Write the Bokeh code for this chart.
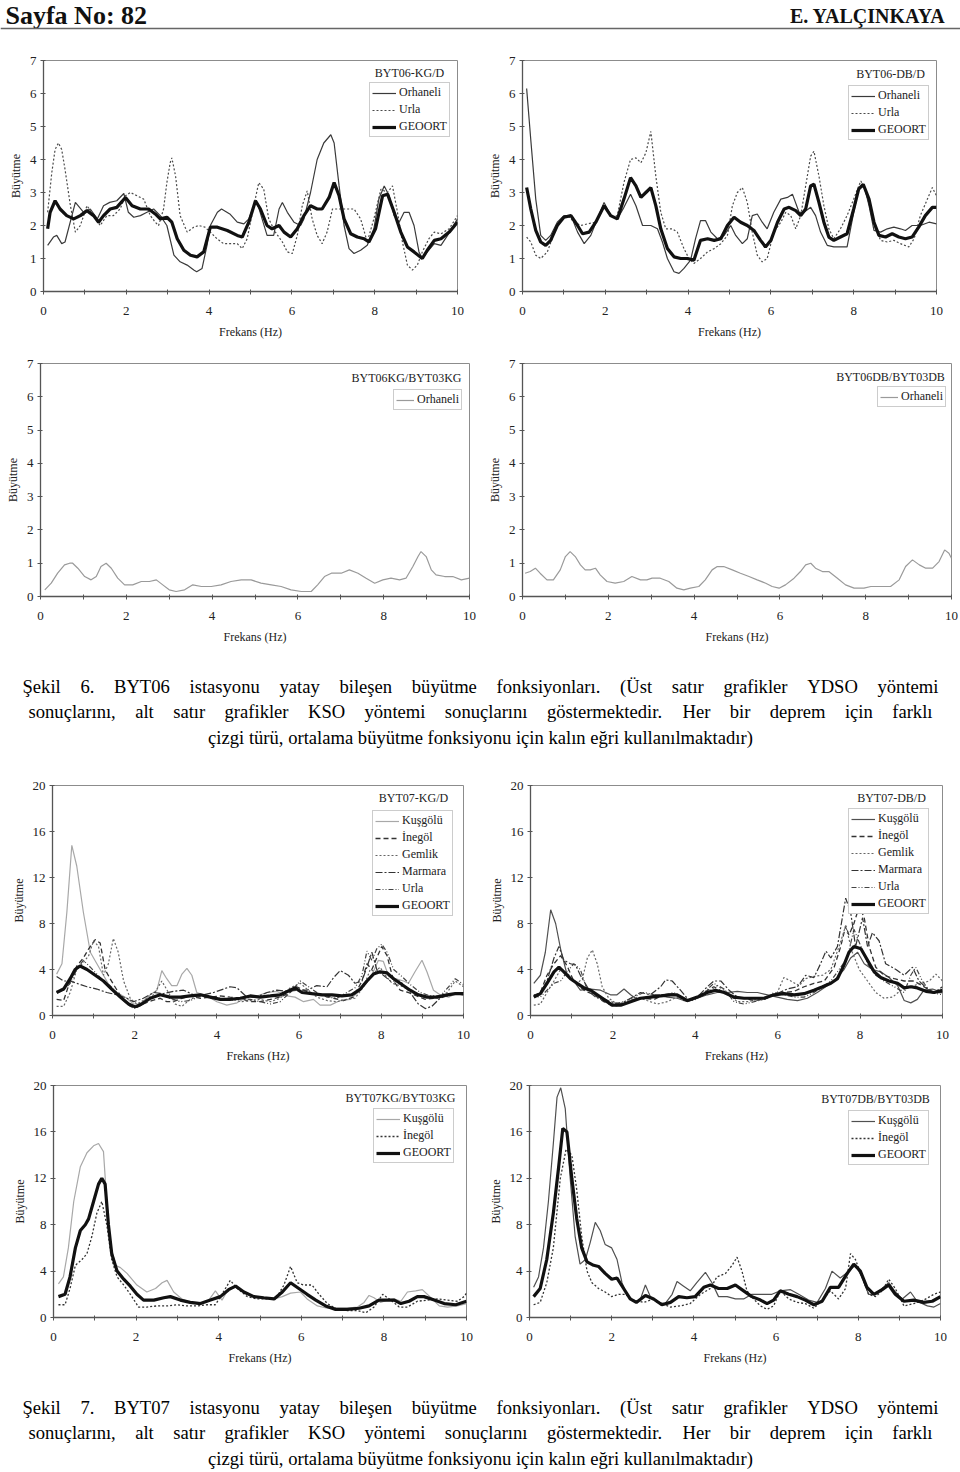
from bokeh.plotting import figure
from bokeh.models import Range1d, FixedTicker, Legend, LegendItem, Label, Span
from bokeh.layouts import column, row
from bokeh.embed import file_html
from bokeh.resources import INLINE

SERIF = "Liberation Serif"

# ---------------- text ----------------
HEADER_LEFT = "Sayfa No: 82"
HEADER_RIGHT = "E. YALÇINKAYA"
X_LABEL = "Frekans (Hz)"
Y_LABEL = "Büyütme"
CAP1 = ["Şekil 6. BYT06 istasyonu yatay bileşen büyütme fonksiyonları. (Üst satır grafikler YDSO yöntemi",
        "sonuçlarını, alt satır grafikler KSO yöntemi sonuçlarını göstermektedir. Her bir deprem için farklı",
        "çizgi türü, ortalama büyütme fonksiyonu için kalın eğri kullanılmaktadır)"]
CAP2 = ["Şekil 7. BYT07 istasyonu yatay bileşen büyütme fonksiyonları. (Üst satır grafikler YDSO yöntemi",
        "sonuçlarını, alt satır grafikler KSO yöntemi sonuçlarını göstermektedir. Her bir deprem için farklı",
        "çizgi türü, ortalama büyütme fonksiyonu için kalın eğri kullanılmaktadır)"]

X_TICKS = [0, 2, 4, 6, 8, 10]
X_MINOR = [1, 3, 5, 7, 9]
Y_TICKS_7 = [0, 1, 2, 3, 4, 5, 6, 7]
Y_TICKS_20 = [0, 4, 8, 12, 16, 20]

# ---------------- data: BYT06-KG/D ----------------
p1_orh_x = [0.1,0.24,0.32,0.44,0.52,0.77,0.97,1.13,1.3,1.45,1.6,1.77,1.94,2.05,2.18,2.34,2.5,2.66,2.82,2.98,3.15,3.3,3.47,3.63,3.7,3.83,3.95,4.03,4.2,4.3,4.5,4.68,4.84,4.96,5.08,5.16,5.28,5.4,5.56,5.69,5.77,5.89,6.05,6.21,6.29,6.45,6.61,6.77,6.94,7.02,7.14,7.26,7.38,7.5,7.66,7.82,7.98,8.1,8.23,8.35,8.47,8.59,8.71,8.83,8.95,9.07,9.15,9.27,9.44,9.6,9.76,10.0]
p1_orh_y = [1.4,1.65,1.7,1.45,1.5,2.7,2.4,2.5,2.2,2.6,2.7,2.75,2.97,2.4,2.25,2.3,2.4,2.5,2.3,2.0,1.1,0.9,0.8,0.65,0.6,0.7,1.4,2.0,2.4,2.5,2.35,2.1,2.05,2.2,2.6,2.7,2.2,1.7,1.7,2.5,2.7,2.4,2.1,2.0,2.2,3.0,4.0,4.5,4.75,4.5,3.2,2.0,1.3,1.15,1.25,1.4,1.9,2.8,3.2,2.9,2.3,2.1,2.4,2.4,2.0,1.2,1.0,1.2,1.45,1.4,1.7,2.2]
p1_url_x = [0.1,0.2,0.28,0.36,0.44,0.52,0.65,0.77,0.89,1.05,1.21,1.37,1.53,1.69,1.85,1.98,2.1,2.26,2.42,2.58,2.7,2.78,2.9,2.98,3.06,3.1,3.19,3.3,3.47,3.63,3.75,3.9,4.03,4.19,4.35,4.52,4.68,4.8,4.92,5.08,5.2,5.32,5.44,5.6,5.77,5.89,6.01,6.13,6.25,6.37,6.49,6.61,6.73,6.85,6.98,7.18,7.34,7.5,7.66,7.82,7.98,8.15,8.31,8.43,8.55,8.67,8.79,8.91,9.03,9.15,9.31,9.44,9.6,9.8,10.0]
p1_url_y = [2.4,3.6,4.3,4.5,4.3,3.7,2.6,1.8,2.0,2.6,2.3,2.0,2.3,2.3,2.5,2.9,3.0,2.9,2.8,2.3,2.1,2.0,2.5,3.3,3.9,4.05,3.5,2.3,1.8,1.95,2.0,1.95,1.8,1.6,1.45,1.45,1.45,1.3,1.6,2.6,3.3,3.1,2.2,1.8,1.5,1.2,1.15,1.7,2.6,3.05,2.2,1.7,1.45,1.8,2.5,2.5,2.5,2.5,2.2,1.5,2.2,3.1,3.0,3.2,2.4,1.5,0.8,0.65,0.8,1.2,1.6,1.8,1.75,1.9,2.3]
p1_geo_x = [0.1,0.16,0.28,0.4,0.56,0.73,0.89,1.05,1.21,1.33,1.45,1.61,1.77,1.98,2.14,2.34,2.54,2.7,2.82,2.98,3.1,3.23,3.39,3.55,3.71,3.87,4.03,4.2,4.44,4.68,4.8,4.96,5.12,5.24,5.4,5.52,5.69,5.81,5.97,6.13,6.29,6.45,6.61,6.73,6.9,7.02,7.14,7.26,7.42,7.58,7.74,7.86,8.02,8.19,8.31,8.47,8.63,8.79,8.95,9.15,9.27,9.44,9.6,9.8,10.0]
p1_geo_y = [1.9,2.4,2.75,2.5,2.3,2.2,2.3,2.45,2.3,2.1,2.3,2.5,2.55,2.85,2.6,2.5,2.5,2.35,2.2,2.25,2.1,1.6,1.25,1.1,1.05,1.2,1.95,1.95,1.85,1.7,1.65,2.1,2.75,2.5,2.0,1.9,2.0,1.8,1.65,1.9,2.3,2.6,2.5,2.5,2.85,3.3,2.9,2.2,1.75,1.65,1.6,1.5,1.9,2.9,2.95,2.4,1.8,1.35,1.2,1.0,1.25,1.55,1.6,1.8,2.1]

# ---------------- data: BYT06-DB/D ----------------
p2_orh_x = [0.1,0.2,0.32,0.44,0.56,0.68,0.84,1.0,1.17,1.33,1.49,1.65,1.81,1.97,2.13,2.29,2.45,2.61,2.74,2.9,3.1,3.26,3.38,3.5,3.66,3.78,3.9,4.06,4.18,4.3,4.42,4.55,4.71,4.87,5.03,5.15,5.31,5.43,5.55,5.67,5.79,5.91,6.07,6.24,6.4,6.52,6.68,6.8,6.96,7.08,7.2,7.36,7.52,7.68,7.84,8.0,8.12,8.25,8.37,8.49,8.65,8.81,8.97,9.13,9.25,9.41,9.61,9.82,10.0]
p2_orh_y = [6.15,4.6,2.8,1.7,1.55,1.7,2.1,2.3,2.3,1.8,1.45,1.7,2.2,2.7,2.3,2.2,2.55,2.95,2.6,2.0,2.0,1.9,1.5,1.0,0.6,0.55,0.7,0.95,1.6,2.15,2.15,1.8,1.6,1.7,2.0,1.7,1.45,1.6,2.3,2.35,2.1,1.9,2.4,2.8,2.85,2.95,2.4,2.4,2.55,2.3,1.8,1.4,1.35,1.35,1.35,2.4,3.1,3.2,2.6,1.85,1.8,1.9,1.95,1.9,1.85,2.0,2.0,2.1,2.05]
p2_url_x = [0.1,0.2,0.32,0.44,0.6,0.76,0.93,1.09,1.25,1.41,1.57,1.77,1.97,2.13,2.29,2.45,2.61,2.74,2.86,2.98,3.1,3.22,3.34,3.46,3.62,3.74,3.9,4.02,4.14,4.3,4.47,4.63,4.79,4.95,5.07,5.19,5.31,5.43,5.55,5.67,5.79,5.91,6.07,6.24,6.36,6.48,6.6,6.72,6.84,6.96,7.04,7.16,7.28,7.4,7.52,7.68,7.84,8.0,8.17,8.29,8.41,8.53,8.65,8.81,8.97,9.13,9.33,9.46,9.61,9.78,9.9,10.0]
p2_url_y = [1.65,1.5,1.1,1.0,1.2,1.75,2.2,2.3,2.1,2.0,2.05,2.1,2.6,2.25,2.3,3.3,4.0,4.05,3.9,4.2,4.85,3.5,2.4,1.9,1.9,1.8,1.3,1.0,0.85,1.0,1.2,1.3,1.45,1.7,2.6,3.0,3.15,2.7,1.8,1.1,0.9,1.0,1.8,2.1,2.4,2.3,1.9,2.3,3.2,4.1,4.25,3.5,2.6,1.9,1.6,1.9,2.3,2.8,3.35,3.1,2.4,1.9,1.55,1.5,1.55,1.45,1.35,1.6,2.3,2.8,3.15,2.9]
p2_geo_x = [0.1,0.2,0.32,0.44,0.56,0.68,0.84,1.0,1.17,1.33,1.45,1.61,1.77,1.97,2.13,2.29,2.45,2.61,2.74,2.86,2.98,3.1,3.22,3.34,3.5,3.66,3.82,3.98,4.14,4.3,4.47,4.63,4.79,4.95,5.11,5.27,5.43,5.59,5.75,5.87,6.0,6.16,6.32,6.44,6.6,6.72,6.84,6.96,7.04,7.16,7.28,7.4,7.52,7.68,7.84,8.0,8.12,8.23,8.37,8.49,8.61,8.77,8.93,9.09,9.25,9.41,9.57,9.73,9.9,10.0]
p2_geo_y = [3.15,2.5,1.85,1.5,1.4,1.55,2.0,2.25,2.3,2.0,1.75,1.8,2.1,2.6,2.3,2.2,2.8,3.45,3.2,2.85,3.0,3.15,2.6,1.9,1.3,1.05,1.0,1.0,0.95,1.55,1.6,1.55,1.6,2.0,2.25,2.1,2.0,1.85,1.55,1.35,1.55,2.1,2.5,2.55,2.45,2.3,2.5,3.2,3.25,2.7,2.1,1.65,1.55,1.65,1.75,2.5,3.1,3.25,2.8,2.1,1.7,1.65,1.75,1.65,1.6,1.65,1.95,2.3,2.55,2.55]

# ---------------- data: BYT06KG/BYT03KG, BYT06DB/BYT03DB ----------------
p3_orh_x = [0.1,0.25,0.4,0.56,0.68,0.75,0.87,1.03,1.18,1.3,1.41,1.53,1.65,1.8,1.96,2.15,2.35,2.54,2.7,2.85,3.0,3.16,3.36,3.55,3.75,3.98,4.21,4.44,4.68,4.91,5.14,5.38,5.61,5.84,6.08,6.31,6.46,6.62,6.78,7.01,7.2,7.4,7.59,7.79,7.98,8.17,8.37,8.52,8.68,8.8,8.87,8.99,9.11,9.22,9.42,9.61,9.81,10.0]
p3_orh_y = [0.2,0.4,0.7,0.95,1.0,1.0,0.85,0.6,0.5,0.6,0.9,1.0,0.85,0.55,0.35,0.35,0.45,0.45,0.5,0.35,0.2,0.15,0.2,0.35,0.3,0.3,0.35,0.45,0.5,0.5,0.4,0.35,0.3,0.2,0.15,0.15,0.35,0.6,0.7,0.7,0.8,0.7,0.55,0.4,0.5,0.55,0.5,0.55,0.9,1.2,1.35,1.2,0.8,0.65,0.6,0.6,0.5,0.55]
p4_orh_x = [0.06,0.18,0.3,0.41,0.57,0.72,0.88,1.0,1.11,1.23,1.35,1.46,1.58,1.7,1.81,1.97,2.16,2.36,2.55,2.75,2.9,3.02,3.21,3.41,3.6,3.76,3.91,4.11,4.26,4.42,4.54,4.69,4.89,5.08,5.28,5.47,5.67,5.82,5.98,6.13,6.33,6.48,6.6,6.72,6.83,6.99,7.14,7.34,7.53,7.73,7.96,8.12,8.35,8.58,8.78,8.93,9.09,9.25,9.4,9.56,9.71,9.84,9.94,10.0]
p4_orh_y = [0.7,0.75,0.85,0.7,0.5,0.5,0.8,1.2,1.35,1.2,0.95,0.8,0.8,0.85,0.65,0.45,0.4,0.45,0.6,0.5,0.5,0.55,0.55,0.45,0.25,0.2,0.25,0.3,0.5,0.8,0.9,0.9,0.8,0.7,0.6,0.5,0.4,0.3,0.25,0.35,0.55,0.75,0.95,1.0,0.85,0.75,0.75,0.55,0.35,0.25,0.25,0.3,0.3,0.3,0.5,0.9,1.1,0.95,0.85,0.85,1.05,1.4,1.3,1.15]

# ---------------- data: BYT07-KG/D ----------------
p5_kus_x = [0.1,0.23,0.35,0.47,0.59,0.75,0.92,1.08,1.24,1.4,1.57,1.81,1.97,2.13,2.38,2.54,2.66,2.78,2.9,3.03,3.15,3.27,3.39,3.51,3.76,4.0,4.24,4.49,4.73,4.97,5.22,5.46,5.7,5.9,6.11,6.35,6.51,6.76,7.0,7.24,7.49,7.73,7.93,8.05,8.18,8.34,8.54,8.66,8.82,8.99,9.11,9.27,9.43,9.64,9.8,10.0]
p5_kus_y = [3.6,4.5,9.0,14.8,13.0,9.0,5.5,4.5,3.5,2.5,2.0,1.5,1.0,1.0,1.8,2.2,3.9,3.2,2.6,2.6,3.6,4.1,3.5,2.0,1.7,1.2,0.9,1.1,1.6,1.7,2.0,2.1,1.7,1.6,1.2,1.4,0.9,0.9,1.3,1.4,2.2,3.2,4.8,4.7,3.4,3.2,3.0,2.8,3.8,4.8,3.8,2.2,1.8,1.6,1.9,1.8]
p5_ine_x = [0.1,0.27,0.43,0.59,0.75,0.88,1.04,1.16,1.28,1.4,1.57,1.73,1.89,2.05,2.21,2.42,2.62,2.78,2.94,3.15,3.35,3.6,3.84,4.08,4.32,4.57,4.81,5.05,5.3,5.54,5.78,5.94,6.11,6.35,6.6,6.84,7.08,7.32,7.53,7.65,7.77,7.89,8.01,8.14,8.3,8.46,8.66,8.86,9.07,9.27,9.51,9.76,10.0]
p5_ine_y = [1.4,1.3,3.0,4.3,5.0,5.8,6.6,6.3,4.0,3.2,2.2,1.3,0.8,0.7,1.0,1.3,1.5,1.2,1.2,1.5,1.7,1.5,1.6,1.7,1.6,1.5,1.2,1.2,1.4,1.6,2.0,2.5,2.2,1.9,1.8,1.5,1.3,1.6,3.0,4.5,4.0,5.0,6.0,5.2,3.0,2.2,2.0,1.7,1.4,1.5,1.6,1.9,1.8]
p5_gem_x = [0.1,0.27,0.43,0.59,0.75,0.88,1.0,1.12,1.24,1.36,1.48,1.6,1.73,1.89,2.05,2.21,2.46,2.66,2.82,2.98,3.15,3.35,3.6,3.84,4.08,4.32,4.57,4.81,5.05,5.3,5.54,5.78,6.03,6.19,6.43,6.68,6.92,7.16,7.36,7.57,7.73,7.85,7.97,8.1,8.26,8.46,8.7,8.95,9.15,9.35,9.6,9.8,10.0]
p5_gem_y = [0.8,0.8,2.0,4.0,4.6,5.2,6.5,6.0,3.5,4.5,6.7,5.5,3.0,1.5,1.0,1.3,1.8,3.0,2.0,1.0,0.8,1.4,1.8,1.5,1.4,1.5,1.2,1.3,1.4,1.2,1.5,2.4,2.8,2.3,1.6,1.3,1.2,1.4,1.5,2.5,4.0,3.8,4.2,3.5,2.8,2.6,2.2,1.8,1.6,1.6,2.0,3.0,2.5]
p5_mar_x = [0.1,0.27,0.43,0.59,0.84,1.08,1.32,1.57,1.81,1.97,2.21,2.46,2.7,2.94,3.19,3.43,3.68,3.92,4.16,4.32,4.49,4.73,4.97,5.22,5.46,5.7,5.94,6.19,6.43,6.68,6.84,7.0,7.2,7.36,7.53,7.65,7.77,7.89,8.05,8.22,8.46,8.7,8.9,9.07,9.23,9.43,9.68,10.0]
p5_mar_y = [3.4,3.0,3.0,2.8,2.5,2.3,2.0,1.8,1.5,1.2,1.5,2.0,1.9,2.1,2.2,1.8,1.8,2.0,2.3,2.5,2.4,1.6,1.6,2.0,2.2,2.1,2.2,2.2,2.6,2.5,3.3,3.9,3.5,2.8,3.0,4.2,5.5,4.0,3.5,3.0,3.0,2.0,1.0,0.6,0.8,1.5,1.8,2.0]
p5_url_x = [0.1,0.27,0.43,0.59,0.75,0.92,1.08,1.24,1.4,1.57,1.77,1.97,2.17,2.38,2.62,2.86,3.11,3.35,3.6,3.84,4.08,4.32,4.57,4.81,5.05,5.3,5.54,5.78,6.03,6.19,6.43,6.68,6.92,7.16,7.36,7.53,7.65,7.77,7.89,8.01,8.14,8.3,8.5,8.7,8.95,9.19,9.43,9.64,9.8,10.0]
p5_url_y = [2.0,2.2,2.8,4.0,4.8,4.2,3.6,3.0,2.6,2.0,1.2,0.6,0.9,1.5,1.8,1.5,1.2,1.3,1.7,1.6,1.5,1.3,1.5,1.4,1.2,1.0,1.2,2.0,3.0,2.6,2.0,1.6,1.5,2.0,2.4,3.5,5.6,4.8,5.8,6.2,5.5,4.0,3.4,2.7,2.0,1.7,1.7,2.5,3.2,2.7]
p5_geo_x = [0.1,0.27,0.43,0.55,0.67,0.84,1.04,1.24,1.44,1.65,1.85,2.01,2.17,2.38,2.62,2.86,3.11,3.35,3.6,3.84,4.08,4.32,4.57,4.81,5.05,5.3,5.54,5.78,5.9,6.07,6.31,6.56,6.8,7.04,7.28,7.49,7.65,7.81,7.97,8.14,8.3,8.5,8.7,8.9,9.11,9.35,9.6,9.8,10.0]
p5_geo_y = [2.0,2.3,3.2,4.0,4.3,4.0,3.5,3.0,2.3,1.6,1.0,0.75,1.0,1.5,1.8,1.6,1.6,1.7,1.8,1.6,1.4,1.4,1.5,1.7,1.6,1.7,1.8,2.2,2.4,2.0,1.9,1.8,1.8,1.7,1.8,2.3,3.0,3.6,3.8,3.7,3.2,2.7,2.2,1.8,1.6,1.6,1.8,1.9,1.9]

# ---------------- data: BYT07-DB/D ----------------
p6_kus_x = [0.08,0.24,0.36,0.49,0.61,0.73,0.89,1.05,1.21,1.46,1.7,1.94,2.1,2.27,2.43,2.59,2.83,3.08,3.32,3.56,3.81,4.05,4.29,4.53,4.78,5.02,5.26,5.51,5.75,5.99,6.23,6.48,6.72,6.96,7.21,7.41,7.61,7.77,7.94,8.1,8.3,8.5,8.7,8.91,9.07,9.23,9.39,9.55,9.76,10.0]
p6_kus_y = [2.8,3.5,5.5,9.2,8.0,5.8,3.5,3.0,2.2,2.3,2.2,1.8,1.8,2.3,1.8,1.4,1.6,1.8,1.6,1.5,1.2,1.5,1.8,2.0,2.0,2.1,2.0,2.0,1.8,1.6,1.4,1.3,1.5,2.0,2.6,3.2,4.0,5.0,5.5,4.5,4.0,3.8,3.3,2.6,1.3,1.1,1.4,2.2,2.3,2.0]
p6_ine_x = [0.08,0.24,0.4,0.57,0.73,0.89,1.05,1.3,1.54,1.78,2.02,2.27,2.51,2.75,3.0,3.24,3.48,3.72,3.97,4.21,4.45,4.7,4.94,5.18,5.43,5.67,5.91,6.15,6.4,6.64,6.88,7.13,7.37,7.53,7.65,7.73,7.85,7.98,8.1,8.22,8.38,8.58,8.83,9.07,9.31,9.55,9.76,10.0]
p6_ine_y = [1.7,2.0,3.5,4.5,5.2,4.3,3.0,2.2,1.8,1.2,0.8,1.0,1.4,1.5,1.4,1.8,1.9,1.3,1.5,2.0,2.5,2.0,1.5,1.5,1.3,1.4,1.8,2.0,2.1,2.5,2.8,3.0,4.2,6.0,7.8,7.0,8.0,9.5,8.5,6.0,4.2,3.5,3.2,3.0,3.0,2.5,2.0,2.0]
p6_gem_x = [0.08,0.24,0.4,0.57,0.73,0.89,1.01,1.13,1.26,1.38,1.5,1.62,1.74,1.9,2.1,2.35,2.59,2.83,3.08,3.32,3.56,3.81,4.05,4.29,4.53,4.78,5.02,5.26,5.51,5.75,5.99,6.15,6.32,6.52,6.68,6.88,7.09,7.29,7.49,7.65,7.81,7.98,8.18,8.38,8.58,8.79,8.99,9.23,9.47,9.68,9.84,10.0]
p6_gem_y = [0.9,1.0,2.0,3.0,4.0,3.8,3.0,2.8,3.2,5.0,5.7,4.5,2.5,1.5,1.0,1.2,1.6,1.3,1.0,1.2,1.6,1.3,1.5,2.0,2.6,2.0,1.2,1.2,1.4,1.5,2.0,3.3,3.0,2.6,3.2,3.4,3.5,4.0,6.0,7.8,5.5,4.0,3.0,2.0,1.5,1.6,2.2,2.5,2.8,3.0,3.6,3.0]
p6_mar_x = [0.08,0.24,0.4,0.57,0.69,0.81,0.97,1.09,1.21,1.46,1.7,1.94,2.19,2.43,2.67,2.91,3.16,3.28,3.44,3.64,3.85,4.05,4.29,4.45,4.62,4.82,5.02,5.26,5.51,5.75,5.99,6.23,6.48,6.68,6.88,7.04,7.17,7.29,7.45,7.65,7.77,7.89,8.06,8.18,8.3,8.46,8.62,8.87,9.07,9.27,9.43,9.64,9.8,10.0]
p6_mar_y = [1.8,1.9,3.0,5.0,6.0,4.8,4.5,4.4,3.5,2.0,1.6,1.2,1.0,1.5,2.0,1.8,2.5,3.1,3.0,2.2,1.3,1.6,2.5,3.0,3.0,2.2,1.6,1.5,1.5,1.6,1.9,2.3,2.5,3.5,3.3,4.5,5.6,5.0,6.0,10.2,9.0,6.0,8.5,6.0,7.2,6.5,4.5,4.0,3.5,4.2,3.0,2.3,2.0,2.5]
p6_url_x = [0.08,0.24,0.4,0.57,0.73,0.89,1.05,1.21,1.38,1.58,1.78,2.02,2.27,2.51,2.75,3.0,3.24,3.48,3.72,3.97,4.21,4.45,4.7,4.94,5.18,5.43,5.67,5.91,6.15,6.4,6.64,6.88,7.09,7.29,7.49,7.69,7.85,8.02,8.18,8.38,8.58,8.83,9.07,9.23,9.35,9.51,9.72,10.0]
p6_url_y = [1.7,1.6,2.2,2.8,3.0,3.8,4.5,4.0,2.2,1.6,1.3,1.0,1.2,1.6,2.0,1.8,1.8,2.0,1.4,1.3,2.0,2.8,2.3,1.2,1.0,1.2,1.4,2.0,1.8,1.6,1.6,2.0,2.5,3.0,4.0,5.0,7.5,6.0,4.5,3.5,3.0,2.5,2.0,3.5,4.2,3.0,2.0,1.8]
p6_geo_x = [0.08,0.24,0.4,0.57,0.69,0.81,0.97,1.13,1.3,1.46,1.62,1.78,1.98,2.19,2.43,2.67,2.91,3.16,3.4,3.56,3.81,4.05,4.29,4.49,4.7,4.94,5.18,5.43,5.67,5.91,6.15,6.4,6.64,6.88,7.09,7.29,7.45,7.61,7.73,7.85,8.02,8.18,8.34,8.5,8.7,8.91,9.07,9.23,9.39,9.6,9.8,10.0]
p6_geo_y = [1.6,1.9,2.8,3.8,4.2,3.8,3.2,2.8,2.4,2.2,1.8,1.4,0.9,0.9,1.2,1.5,1.6,1.7,1.8,1.8,1.3,1.6,2.0,2.2,2.0,1.6,1.5,1.5,1.5,1.8,1.9,1.8,1.9,2.2,2.5,2.8,3.2,4.4,5.5,6.0,5.8,4.8,3.8,3.3,3.0,2.8,2.4,2.5,2.4,2.1,2.0,2.2]

# ---------------- data: BYT07KG/BYT03KG ----------------
p7_kus_x = [0.12,0.24,0.36,0.49,0.65,0.81,0.97,1.09,1.21,1.29,1.37,1.5,1.62,1.78,2.02,2.26,2.47,2.63,2.75,2.91,3.11,3.31,3.56,3.76,3.92,4.08,4.24,4.41,4.61,4.85,5.09,5.34,5.54,5.74,5.98,6.14,6.39,6.63,6.87,7.11,7.36,7.52,7.64,7.76,7.92,8.08,8.25,8.41,8.57,8.77,8.93,9.14,9.34,9.54,9.78,10.0]
p7_kus_y = [2.9,3.5,6.0,10.0,13.0,14.2,14.8,15.0,14.3,10.0,6.5,4.5,4.3,3.8,2.8,2.2,2.5,3.0,3.2,2.2,1.6,1.3,1.2,1.5,2.3,1.5,2.5,2.7,2.2,1.8,1.6,1.6,1.8,2.1,2.2,1.6,1.0,0.8,0.8,0.8,0.9,1.3,1.9,1.7,1.3,1.5,1.6,1.4,2.2,2.3,2.4,1.7,1.0,0.9,1.0,1.2]
p7_ine_x = [0.12,0.28,0.4,0.53,0.69,0.81,0.93,1.05,1.17,1.29,1.41,1.54,1.7,1.86,2.06,2.26,2.51,2.75,2.99,3.23,3.48,3.72,3.92,4.08,4.28,4.45,4.69,4.93,5.17,5.38,5.58,5.74,5.9,6.06,6.26,6.43,6.63,6.87,7.11,7.36,7.56,7.76,7.97,8.17,8.37,8.57,8.81,9.06,9.3,9.54,9.78,9.94,10.0]
p7_ine_y = [1.1,1.1,2.5,4.5,5.0,5.5,7.0,9.0,10.0,8.0,5.0,3.5,2.8,2.0,0.9,0.9,1.0,1.0,1.1,1.0,1.0,1.1,1.1,2.0,3.2,2.5,1.8,1.6,1.6,1.6,2.8,4.4,3.0,2.8,2.8,2.0,1.2,0.7,0.6,0.6,0.4,0.9,2.0,1.5,0.9,0.9,1.4,1.5,1.6,1.5,1.4,1.8,2.1]
p7_geo_x = [0.12,0.28,0.4,0.53,0.65,0.77,0.85,0.97,1.09,1.17,1.25,1.33,1.41,1.54,1.7,1.86,2.02,2.18,2.43,2.67,2.83,3.07,3.31,3.56,3.8,4.04,4.24,4.41,4.61,4.85,5.09,5.34,5.54,5.74,5.94,6.14,6.35,6.59,6.83,7.11,7.4,7.64,7.88,8.04,8.25,8.41,8.61,8.81,8.97,9.22,9.46,9.74,10.0]
p7_geo_y = [1.8,2.0,3.5,6.0,7.5,8.0,8.5,10.0,11.5,12.0,11.5,8.0,5.5,4.0,3.3,2.7,2.0,1.5,1.5,1.7,1.8,1.5,1.3,1.2,1.5,1.8,2.4,2.7,2.2,1.8,1.7,1.6,2.2,3.0,2.5,2.0,1.5,1.0,0.7,0.7,0.8,1.0,1.5,1.5,1.5,1.2,1.4,1.8,1.8,1.5,1.2,1.1,1.4]

# ---------------- data: BYT07DB/BYT03DB ----------------
p8_kus_x = [0.1,0.22,0.34,0.46,0.58,0.67,0.76,0.87,0.99,1.11,1.23,1.36,1.48,1.6,1.72,1.84,2.0,2.13,2.25,2.37,2.53,2.69,2.82,2.94,3.1,3.3,3.47,3.59,3.75,3.91,4.07,4.28,4.44,4.6,4.81,5.01,5.21,5.41,5.66,5.9,6.1,6.35,6.55,6.79,7.0,7.2,7.36,7.56,7.77,7.93,8.09,8.25,8.42,8.58,8.74,8.9,9.07,9.27,9.43,9.68,9.84,10.0]
p8_kus_y = [2.6,3.5,6.0,10.0,15.0,19.0,19.8,18.0,12.0,7.0,4.6,5.0,6.5,8.2,7.5,6.3,6.0,5.0,3.0,2.0,1.4,1.5,2.8,1.8,1.3,1.2,2.0,3.1,2.7,2.3,3.0,3.9,3.0,1.8,1.8,1.6,1.6,2.0,2.0,2.0,2.3,2.4,2.0,1.5,1.3,2.5,4.0,3.4,4.0,4.5,3.5,2.0,2.0,2.5,3.0,2.2,1.6,2.2,1.4,1.0,0.9,1.2]
p8_ine_x = [0.1,0.26,0.42,0.58,0.75,0.89,1.03,1.15,1.27,1.4,1.52,1.68,1.84,2.0,2.17,2.33,2.53,2.78,3.02,3.22,3.43,3.67,3.91,4.16,4.4,4.56,4.77,4.93,5.05,5.17,5.29,5.45,5.62,5.78,5.94,6.1,6.31,6.51,6.71,6.92,7.12,7.32,7.52,7.69,7.81,7.93,8.09,8.25,8.42,8.58,8.74,8.9,9.11,9.35,9.59,9.84,10.0]
p8_ine_y = [1.1,1.3,3.0,6.0,12.0,14.5,14.0,11.0,7.0,4.0,3.0,2.5,2.2,1.8,2.0,2.0,1.5,1.3,1.6,1.2,0.9,1.0,1.2,2.0,2.5,3.5,3.8,4.5,5.2,4.0,2.3,1.6,1.0,0.7,1.0,2.3,1.6,1.3,1.2,0.8,1.5,2.3,1.6,2.5,5.5,5.0,3.5,2.0,1.8,2.3,3.3,2.5,1.0,1.2,1.5,2.0,2.2]
p8_geo_x = [0.1,0.26,0.42,0.58,0.71,0.81,0.91,1.03,1.15,1.27,1.4,1.56,1.68,1.84,2.0,2.13,2.29,2.45,2.6,2.82,3.02,3.22,3.43,3.63,3.83,4.03,4.24,4.4,4.6,4.81,5.01,5.21,5.41,5.62,5.78,5.94,6.1,6.31,6.51,6.71,6.92,7.12,7.32,7.52,7.73,7.89,8.05,8.21,8.38,8.58,8.74,8.9,9.11,9.35,9.59,9.8,10.0]
p8_geo_y = [1.8,2.5,5.0,9.0,13.0,16.3,16.0,12.0,8.5,6.0,4.8,4.5,4.4,3.8,3.3,3.4,2.5,1.6,1.3,1.9,1.6,1.1,1.3,1.8,1.7,1.8,2.6,2.8,2.5,2.5,2.8,2.3,1.8,1.5,1.2,1.5,2.3,2.0,1.8,1.5,1.1,1.4,2.6,2.6,3.8,4.6,4.0,2.6,2.0,2.4,2.8,2.0,1.4,1.5,1.3,1.4,1.8]

# ---------------- styles ----------------
ST_ORH = dict(color="#3a3a3a", width=1.2, dash="solid")
ST_ORH_L = dict(color="#9a9a9a", width=1.2, dash="solid")
ST_URL_DOT = dict(color="#4a4a4a", width=1.2, dash="2 2")
ST_GEO = dict(color="#111111", width=3.2, dash="solid")
ST_KUS_L = dict(color="#a8a8a8", width=1.2, dash="solid")
ST_KUS_D = dict(color="#505050", width=1.2, dash="solid")
ST_INE = dict(color="#333333", width=1.3, dash="5 3")
ST_INE_DOT = dict(color="#333333", width=1.3, dash="2 2")
ST_GEM = dict(color="#666666", width=1.2, dash="2 2")
ST_MAR = dict(color="#333333", width=1.2, dash="7 2 2 2")
ST_URL = dict(color="#444444", width=1.2, dash="5 2 1 2 1 2")

# approximate Times metrics (per 1000 em) used only to spread justified caption words
TW = {' ': 250, '(': 333, ')': 333, ',': 250, '.': 250,
      'A': 722, 'B': 667, 'C': 667, 'D': 722, 'E': 611, 'G': 722, 'H': 722, 'I': 333, 'K': 722,
      'L': 611, 'M': 889, 'N': 722, 'O': 722, 'S': 556, 'T': 611, 'U': 722, 'Y': 722, 'Ş': 556,
      'Ü': 722, 'Ç': 667, 'a': 444, 'b': 500, 'c': 444, 'd': 500, 'e': 444, 'f': 333, 'g': 500,
      'h': 500, 'i': 278, 'ı': 278, 'k': 500, 'l': 278, 'm': 778, 'n': 500, 'o': 500, 'r': 333,
      's': 389, 't': 278, 'u': 500, 'y': 500, 'z': 444, 'ç': 444, 'ğ': 500, 'ö': 500, 'ü': 500,
      'ş': 389}
CAP_SIZE = 18.6


def tw(s, size):
    return sum(TW.get(c, 500) for c in s) * size / 1000.0


def make_panel(w, h, left, right, top, bottom, ymax, yticks, title, title_pos, legend_pos, series,
               glyph_w=24):
    p = figure(width=w, height=h, x_range=Range1d(0, 10), y_range=Range1d(0, ymax),
               output_backend="svg", toolbar_location=None,
               min_border_left=left, min_border_right=right,
               min_border_top=top, min_border_bottom=bottom)
    p.xgrid.visible = False
    p.ygrid.visible = False
    p.outline_line_color = "#8c8c8c"
    p.outline_line_width = 1
    p.background_fill_color = "white"
    p.xaxis.ticker = FixedTicker(ticks=X_TICKS, minor_ticks=X_MINOR)
    p.yaxis.ticker = FixedTicker(ticks=yticks, minor_ticks=[])
    p.xaxis.axis_label = X_LABEL
    p.yaxis.axis_label = Y_LABEL
    for ax in (p.xaxis[0], p.yaxis[0]):
        ax.axis_line_color = "#555555"
        ax.axis_line_width = 1.3
        ax.major_tick_line_color = "#555555"
        ax.minor_tick_line_color = "#555555"
        ax.major_tick_in = 2
        ax.major_tick_out = 3
        ax.minor_tick_in = 2
        ax.minor_tick_out = 3
        ax.major_label_text_font = SERIF
        ax.major_label_text_font_size = "13px"
        ax.major_label_text_color = "#222222"
        ax.axis_label_text_font = SERIF
        ax.axis_label_text_font_size = "12px"
        ax.axis_label_text_font_style = "normal"
        ax.axis_label_text_color = "#222222"
    p.xaxis.major_label_standoff = 12
    p.xaxis.axis_label_standoff = 7
    p.yaxis.major_label_standoff = 4
    p.yaxis.axis_label_standoff = 4

    items = []
    for name, xs, ys, st in series:
        n = min(len(xs), len(ys))
        r = p.line(xs[:n], ys[:n], line_color=st["color"], line_width=st["width"],
                   line_dash=st["dash"])
        items.append(LegendItem(label=name, renderers=[r]))
    leg = Legend(items=items, location=legend_pos)
    leg.border_line_color = "#9a9a9a"
    leg.border_line_width = 1
    leg.background_fill_color = "white"
    leg.background_fill_alpha = 1.0
    leg.label_text_font = SERIF
    leg.label_text_font_size = "12px"
    leg.label_text_color = "#222222"
    leg.glyph_width = glyph_w
    leg.glyph_height = 14
    leg.label_height = 14
    leg.label_standoff = 3
    leg.spacing = 2
    leg.padding = 2
    leg.margin = 0
    p.add_layout(leg)

    p.add_layout(Label(x=title_pos[0], y=title_pos[1], x_units="screen", y_units="screen",
                       text=title, text_font=SERIF, text_font_size="12px",
                       text_color="#222222", text_align="center", text_baseline="middle"))
    return p


def blank(w, h):
    p = figure(width=w, height=h, x_range=Range1d(0, w), y_range=Range1d(0, h),
               output_backend="svg", toolbar_location=None,
               x_axis_type=None, y_axis_type=None, min_border=0)
    p.xgrid.visible = False
    p.ygrid.visible = False
    p.outline_line_color = None
    return p


def cap_label(p, x, y, text, align):
    p.add_layout(Label(x=x, y=y, text=text, text_font=SERIF, text_font_size="%.1fpx" % CAP_SIZE,
                       text_color="#000000", text_align=align, text_baseline="middle"))


def justified(p, text, x0, x1, y):
    words = text.split(" ")
    widths = [tw(wd, CAP_SIZE) for wd in words]
    gap = (x1 - x0 - sum(widths)) / (len(words) - 1)
    x = x0
    for wd, wdt in zip(words, widths):
        cap_label(p, x, y, wd, "left")
        x += wdt + gap


def caption(h, lines, ys):
    p = blank(960, h)
    justified(p, lines[0], 22, 938, ys[0])
    justified(p, lines[1], 28, 932, ys[1])
    cap_label(p, 480, ys[2], lines[2], "center")
    return p


# header
hdr = blank(960, 45)
hdr.add_layout(Label(x=5, y=30, text=HEADER_LEFT, text_font=SERIF, text_font_size="26px",
                     text_font_style="bold", text_color="#111111", text_align="left",
                     text_baseline="middle"))
hdr.add_layout(Label(x=945, y=30, text=HEADER_RIGHT, text_font=SERIF, text_font_size="20px",
                     text_font_style="bold", text_color="#111111", text_align="right",
                     text_baseline="middle"))
hdr.add_layout(Span(location=17, dimension="width", line_color="#666666", line_width=1.5))

p1 = make_panel(480, 300, 43, 23, 15, 53, 7, Y_TICKS_7, "BYT06-KG/D", (366, 219), (326, 154),
                [("Orhaneli", p1_orh_x, p1_orh_y, ST_ORH),
                 ("Urla", p1_url_x, p1_url_y, ST_URL_DOT),
                 ("GEOORT", p1_geo_x, p1_geo_y, ST_GEO)])
p2 = make_panel(480, 300, 42, 24, 13, 54, 7, Y_TICKS_7, "BYT06-DB/D", (368, 218), (326, 151),
                [("Orhaneli", p2_orh_x, p2_orh_y, ST_ORH),
                 ("Urla", p2_url_x, p2_url_y, ST_URL_DOT),
                 ("GEOORT", p2_geo_x, p2_geo_y, ST_GEO)])
p3 = make_panel(480, 305, 40, 11, 18, 54, 7, Y_TICKS_7, "BYT06KG/BYT03KG", (366, 219), (353, 186),
                [("Orhaneli", p3_orh_x, p3_orh_y, ST_ORH_L)], glyph_w=18)
p4 = make_panel(480, 305, 42, 9, 18, 54, 7, Y_TICKS_7, "BYT06DB/BYT03DB", (368, 220), (355, 189),
                [("Orhaneli", p4_orh_x, p4_orh_y, ST_ORH_L)], glyph_w=18)
p5 = make_panel(480, 305, 52, 17, 12, 60, 20, Y_TICKS_20, "BYT07-KG/D", (361, 218), (320, 99),
                [("Kuşgölü", p5_kus_x, p5_kus_y, ST_KUS_L),
                 ("İnegöl", p5_ine_x, p5_ine_y, ST_INE),
                 ("Gemlik", p5_gem_x, p5_gem_y, ST_GEM),
                 ("Marmara", p5_mar_x, p5_mar_y, ST_MAR),
                 ("Urla", p5_url_x, p5_url_y, ST_URL),
                 ("GEOORT", p5_geo_x, p5_geo_y, ST_GEO)])
p6 = make_panel(480, 305, 50, 18, 15, 57, 20, Y_TICKS_20, "BYT07-DB/D", (361, 218), (318, 101),
                [("Kuşgölü", p6_kus_x, p6_kus_y, ST_KUS_D),
                 ("İnegöl", p6_ine_x, p6_ine_y, ST_INE),
                 ("Gemlik", p6_gem_x, p6_gem_y, ST_GEM),
                 ("Marmara", p6_mar_x, p6_mar_y, ST_MAR),
                 ("Urla", p6_url_x, p6_url_y, ST_URL),
                 ("GEOORT", p6_geo_x, p6_geo_y, ST_GEO)])
p7 = make_panel(480, 300, 53, 14, 10, 56, 20, Y_TICKS_20, "BYT07KG/BYT03KG", (347, 220), (320, 154),
                [("Kuşgölü", p7_kus_x, p7_kus_y, ST_KUS_L),
                 ("İnegöl", p7_ine_x, p7_ine_y, ST_INE_DOT),
                 ("GEOORT", p7_geo_x, p7_geo_y, ST_GEO)])
p8 = make_panel(480, 300, 49, 20, 9, 58, 20, Y_TICKS_20, "BYT07DB/BYT03DB", (346, 219), (319, 152),
                [("Kuşgölü", p8_kus_x, p8_kus_y, ST_KUS_D),
                 ("İnegöl", p8_ine_x, p8_ine_y, ST_INE_DOT),
                 ("GEOORT", p8_geo_x, p8_geo_y, ST_GEO)])

cap1 = caption(120, CAP1, [84, 59, 33])
cap2 = caption(96, CAP2, [64, 39, 13])

layout = column(hdr, row(p1, p2), row(p3, p4), cap1, row(p5, p6), row(p7, p8), cap2)
layout.spacing = 0

open("out.html", "w").write(file_html(layout, INLINE))
